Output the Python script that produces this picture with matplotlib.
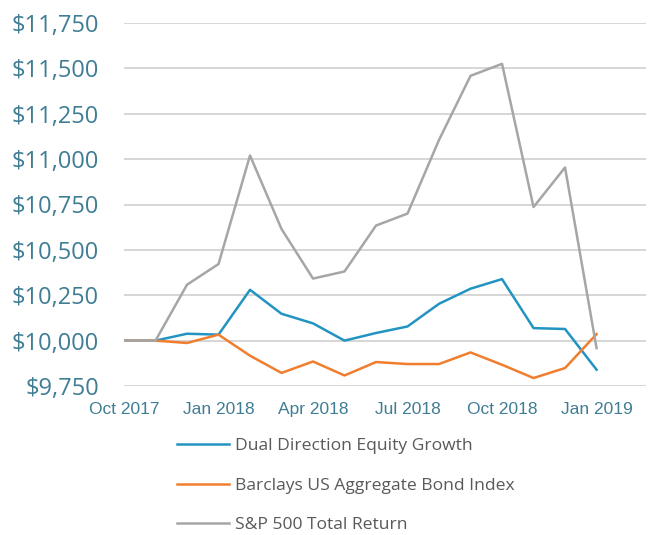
import matplotlib
matplotlib.use("Agg")
import matplotlib.pyplot as plt

months = ["Oct 2017", "Nov 2017", "Dec 2017", "Jan 2018", "Feb 2018", "Mar 2018",
          "Apr 2018", "May 2018", "Jun 2018", "Jul 2018", "Aug 2018", "Sep 2018",
          "Oct 2018", "Nov 2018", "Dec 2018", "Jan 2019"]

dual_direction = [10000, 10000, 10038, 10033, 10280, 10148, 10095, 10000,
                  10042, 10078, 10203, 10286, 10339, 10069, 10064, 9840]
barclays_agg = [10000, 10000, 9987, 10033, 9917, 9822, 9885, 9808,
                9882, 9871, 9871, 9935, 9867, 9794, 9849, 10036]
sp500_tr = [10000, 10000, 10308, 10422, 11020, 10615, 10342, 10381,
            10634, 10700, 11106, 11459, 11525, 10736, 10954, 9959]

series_names = ["Dual Direction Equity Growth", "Barclays US Aggregate Bond Index",
                "S&P 500 Total Return"]
y_ticks = [9750, 10000, 10250, 10500, 10750, 11000, 11250, 11500, 11750]

tick_color = "#3f7d94"

fig = plt.figure(figsize=(6.48, 5.35), dpi=100)
ax = fig.add_axes([124 / 648, 1 - 386 / 535, 522 / 648, 363 / 535])

x = list(range(len(months)))
ax.plot(x, dual_direction, color="#2394c2", lw=1.8, label=series_names[0], zorder=3)
ax.plot(x, barclays_agg, color="#f07e2e", lw=1.8, label=series_names[1], zorder=3)
ax.plot(x, sp500_tr, color="#a6a6a6", lw=1.8, label=series_names[2], zorder=3)

ax.set_xlim(0, 16.57)
ax.set_ylim(9750, 11750)
ax.set_yticks(y_ticks)
ax.set_yticklabels([f"${v:,}" for v in y_ticks], family="Open Sans",
                   fontsize=17, color=tick_color)
ax.set_xticks(x[::3])
ax.set_xticklabels(months[::3], family="Liberation Sans", fontsize=12.5, color=tick_color)
ax.tick_params(axis="y", length=0, pad=18)
ax.tick_params(axis="x", length=0, pad=11.5)

ax.grid(axis="y", color="#d6d6d6", lw=1.4)
ax.set_axisbelow(True)
for s in ax.spines.values():
    s.set_visible(False)

leg = fig.legend(loc="upper left", bbox_to_anchor=(177 / 648, 1 - 438 / 535),
                 frameon=False, borderpad=0, borderaxespad=0,
                 handlelength=2.97, handletextpad=0.34, labelspacing=1.33,
                 prop={"family": "Open Sans", "size": 12.6})
for t in leg.get_texts():
    t.set_color("#595959")

fig.savefig("out.png", dpi=100)
